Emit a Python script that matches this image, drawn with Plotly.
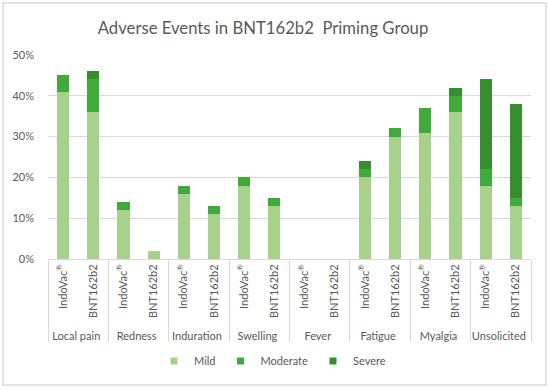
import plotly.graph_objects as go

groups = ["Local pain", "Redness", "Induration", "Swelling", "Fever", "Fatigue", "Myalgia", "Unsolicited"]
vaccines = ["IndoVac<sup>®</sup>", "BNT162b2"]

# values in % (IndoVac, BNT162b2 per group)
mild = [41, 36, 12, 2, 16, 11, 18, 13, 0, 0, 20, 30, 31, 36, 18, 13]
moderate = [4, 8, 2, 0, 2, 2, 2, 2, 0, 0, 2, 2, 6, 4, 4, 2]
severe = [0, 2, 0, 0, 0, 0, 0, 0, 0, 0, 2, 0, 0, 2, 22, 23]

series = [("Mild", mild, "#A9D18E"), ("Moderate", moderate, "#40AB3B"), ("Severe", severe, "#378E2E")]

x_outer = [g for g in groups for _ in vaccines]
x_inner = [v for _ in groups for v in vaccines]

fig = go.Figure()
for name, vals, col in series:
    fig.add_trace(go.Bar(
        x=[x_outer, x_inner],
        y=[v / 100 for v in vals],
        name=name,
        marker=dict(color=col, line=dict(width=0)),
        showlegend=False,
    ))
# legend entries with small square markers
for name, vals, col in series:
    fig.add_trace(go.Scatter(
        x=[None], y=[None], mode="markers", name=name,
        marker=dict(symbol="square", size=7, color=col),
    ))

W, H = 550, 389
L, R, T, B = 48, 19, 55, 130
pw, ph = W - L - R, H - T - B

fig.update_layout(
    width=W, height=H,
    barmode="stack",
    bargap=0.6,
    margin=dict(l=L, r=R, t=T, b=B, pad=0, autoexpand=False),
    plot_bgcolor="white",
    paper_bgcolor="white",
    font=dict(family="Lato, Carlito, sans-serif", color="#595959", size=11),
    title=dict(
        text="Adverse Events in BNT162b2  Priming Group",
        x=263 / W, xanchor="center", xref="container",
        y=1 - 28 / H, yanchor="middle", yref="container",
        font=dict(size=16.7, color="#595959"),
    ),
    legend=dict(
        orientation="h", x=0.5 - 17 / pw, xanchor="center", y=(T + ph - 361) / ph, yanchor="middle",
        font=dict(size=11, color="#595959"), itemwidth=30,
        traceorder="normal",
    ),
    xaxis=dict(
        type="multicategory",
        tickangle=-90, automargin=False,
        showdividers=True, dividercolor="#D9D9D9", dividerwidth=1,
        showline=True, linecolor="#D9D9D9", linewidth=1,
        ticks="", tickfont=dict(size=11, color="#595959"),
        showgrid=False,
    ),
    yaxis=dict(
        range=[0, 0.5], dtick=0.1, tickformat=".0%", automargin=False,
        showgrid=True, gridcolor="#D9D9D9", gridwidth=1,
        zeroline=False, showline=False, ticks="",
        tickfont=dict(size=11, color="#595959"), ticklabelstandoff=13,
    ),
    shapes=[dict(
        type="rect", xref="paper", yref="paper",
        x0=(3 - L) / pw, x1=(546 - L) / pw,
        y0=(T + ph - 385) / ph, y1=(T + ph - 3) / ph,
        line=dict(color="#D9D9D9", width=1.5), fillcolor="rgba(0,0,0,0)", layer="below",
    )],
)

fig.write_html(
    "out.html",
    config={"displayModeBar": False},
    post_script="document.body.style.margin='0';document.body.style.padding='0';",
)
